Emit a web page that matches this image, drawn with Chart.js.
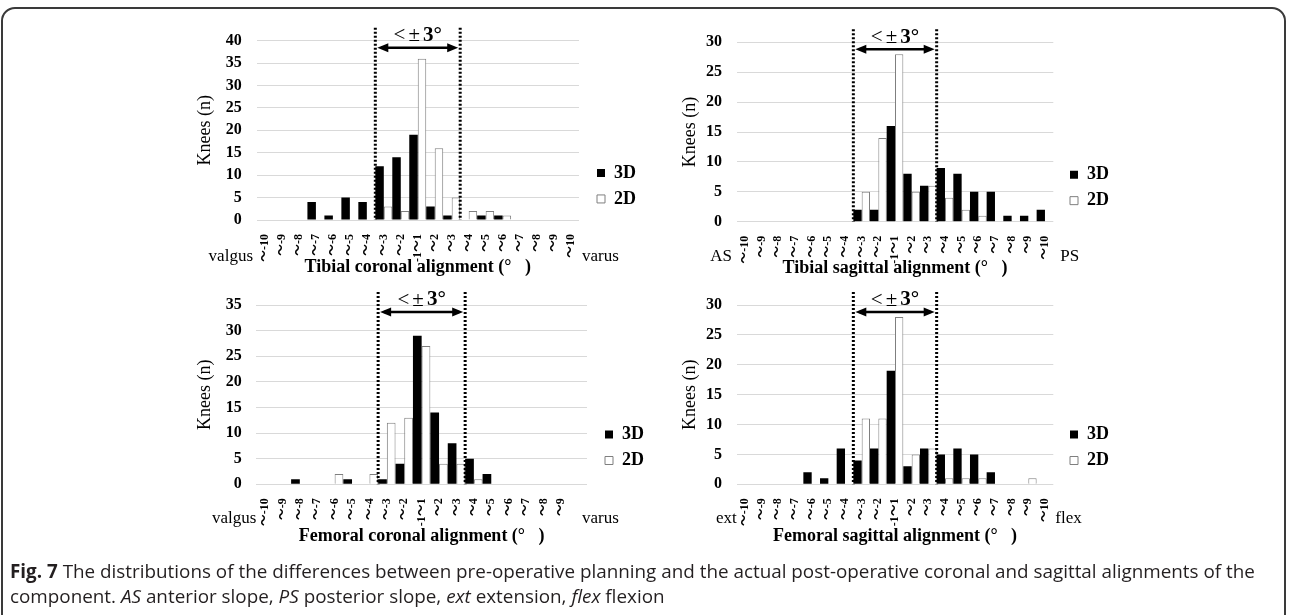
<!DOCTYPE html>
<html lang="en">
<head>
  <meta charset="UTF-8" />
  <title>Fig. 7 alignment distributions</title>
  <script src="https://cdn.jsdelivr.net/npm/chart.js"></script>
  <style>
    * { box-sizing: border-box; margin: 0; padding: 0; }

    body {
      width: 1292px;
      height: 615px;
      background: #fff;
      position: relative;
      overflow: hidden;
    }

    .frame {
      position: absolute;
      left: 1px;
      top: 7px;
      width: 1285px;
      height: 700px;
      border: 2px solid #3a3a3a;
      border-radius: 14px;
    }

    .panel {
      position: absolute;
      width: 500px;
      height: 285px;
    }

    .caption {
      position: absolute;
      left: 10px;
      top: 559px;
      font-family: 'Open Sans', sans-serif;
      font-size: 17px;
      line-height: 25px;
      color: #231f20;
      white-space: nowrap;
    }
    .caption b { font-weight: 700; }
  </style>
</head>
<body>

  <div class="frame"></div>

  <div class="panel" style="left:180px; top:15px;"><canvas id="tibCor" width="500" height="285"></canvas></div>
  <div class="panel" style="left:660px; top:15px;"><canvas id="tibSag" width="500" height="285"></canvas></div>
  <div class="panel" style="left:180px; top:275px;"><canvas id="femCor" width="500" height="285"></canvas></div>
  <div class="panel" style="left:660px; top:275px;"><canvas id="femSag" width="500" height="285"></canvas></div>

  <div class="caption">
    <div><span id="cap1"><b>Fig. 7</b> The distributions of the differences between pre-operative planning and the actual post-operative coronal and sagittal alignments of the</span></div>
    <div>component. <i>AS</i> anterior slope, <i>PS</i> posterior slope, <i>ext</i> extension, <i>flex</i> flexion</div>
  </div>

  <script>
    // categories (degrees)
    const degLabels = ['～-10', '～-9', '～-8', '～-7', '～-6', '～-5', '～-4', '～-3', '～-2', '-1～1',
                       '～2', '～3', '～4', '～5', '～6', '～7', '～8', '～9', '～10'];
    // femoral coronal chart has no label on the last slot
    const degLabelsFemCor = ['～-10', '～-9', '～-8', '～-7', '～-6', '～-5', '～-4', '～-3', '～-2', '-1～1',
                             '～2', '～3', '～4', '～5', '～6', '～7', '～8', '～9', ''];

    // knees per bin
    const tibCor3D = [0, 0, 0, 4, 1, 5, 4, 12, 14, 19, 3, 1, 0, 1, 1, 0, 0, 0, 0];
    const tibCor2D = [0, 0, 0, 0, 0, 0, 0, 3, 2, 36, 16, 5, 2, 2, 1, 0, 0, 0, 0];
    const tibSag3D = [0, 0, 0, 0, 0, 0, 0, 2, 2, 16, 8, 6, 9, 8, 5, 5, 1, 1, 2];
    const tibSag2D = [0, 0, 0, 0, 0, 0, 0, 5, 14, 28, 5, 6, 4, 2, 1, 0, 0, 0, 0];
    const femCor3D = [0, 0, 1, 0, 0, 1, 0, 1, 4, 29, 14, 8, 5, 2, 0, 0, 0, 0, 0];
    const femCor2D = [0, 0, 0, 0, 2, 0, 2, 12, 13, 27, 4, 4, 1, 0, 0, 0, 0, 0, 0];
    const femSag3D = [0, 0, 0, 0, 2, 1, 6, 4, 6, 19, 3, 6, 5, 6, 5, 2, 0, 0, 0];
    const femSag2D = [0, 0, 0, 0, 0, 0, 0, 11, 11, 28, 5, 6, 1, 1, 1, 0, 0, 1, 0];

    // y axis maximums
    const yMaxTibCor = 40;
    const yMaxTibSag = 30;
    const yMaxFemCor = 35;
    const yMaxFemSag = 30;

    const serif = "'Liberation Serif', 'Noto Sans CJK JP', serif";
    Chart.defaults.font.family = serif;
    Chart.defaults.color = '#000';

    // moves the legend box a bit (excel put it lower/right than chart.js does)
    const legendShift = {
      id: 'legendShift',
      afterLayout(chart, args, o) {
        const l = chart.legend;
        if (!l) return;
        l.left += o.dx; l.right += o.dx;
        l.top += o.dy; l.bottom += o.dy;
      }
    };

    // the "<±3°" band: dotted borders, double arrow, and the side words
    const band = {
      id: 'band',
      afterDatasetsDraw(chart, args, o) {
        const { ctx, chartArea: a } = chart;
        const xs = chart.scales.x;
        const x1 = xs.getPixelForValue(o.from);
        const x2 = xs.getPixelForValue(o.to);
        ctx.save();
        ctx.strokeStyle = '#000';
        ctx.lineWidth = 3;
        ctx.setLineDash([2, 2]);
        for (const px of [x1, x2]) {
          ctx.beginPath();
          ctx.moveTo(px, a.top - 13);
          ctx.lineTo(px, a.bottom);
          ctx.stroke();
        }
        ctx.setLineDash([]);

        const ay = a.top + 7;
        ctx.lineWidth = 2.5;
        ctx.beginPath();
        ctx.moveTo(x1 + 6, ay);
        ctx.lineTo(x2 - 6, ay);
        ctx.stroke();
        ctx.fillStyle = '#000';
        [[x1 + 2, 1], [x2 - 2, -1]].forEach(([tip, dir]) => {
          ctx.beginPath();
          ctx.moveTo(tip, ay);
          ctx.lineTo(tip + dir * 11, ay - 4.5);
          ctx.lineTo(tip + dir * 11, ay + 4.5);
          ctx.closePath();
          ctx.fill();
        });

        // "<", "±" light, "3°" bold, with small gaps like the original
        const parts = [['<', '21px '], ['±', '21px '], ['3°', 'bold 21px ']];
        const gap = 3;
        ctx.textBaseline = 'middle';
        ctx.textAlign = 'left';
        let total = 0;
        const widths = parts.map(([t, f]) => { ctx.font = f + serif; const w = ctx.measureText(t).width; total += w; return w; });
        total += gap * (parts.length - 1);
        let tx = (x1 + x2) / 2 - total / 2;
        parts.forEach(([t, f], i) => {
          ctx.font = f + serif;
          ctx.fillText(t, tx, a.top - 5);
          tx += widths[i] + gap;
        });

        ctx.font = '17px ' + serif;
        const sy = a.bottom + o.sideDy;
        ctx.textAlign = 'right';
        ctx.fillText(o.leftText, a.left - o.gapL, sy);
        ctx.textAlign = 'left';
        ctx.fillText(o.rightText, a.right + o.gapR, sy);
        ctx.restore();
      }
    };

    function makeChart(id, labels, d3, d2, yMax, p) {
      return new Chart(document.getElementById(id), {
        type: 'bar',
        data: {
          labels: labels,
          datasets: [
            { label: '3D', data: d3, backgroundColor: '#000', borderColor: '#000', borderWidth: 0 },
            { label: '2D', data: d2, backgroundColor: '#fff', borderColor: '#7f7f7f', borderWidth: 1 }
          ]
        },
        options: {
          responsive: false,
          animation: false,
          layout: { padding: { top: p.padTop, right: p.padRight, bottom: 0, left: 0 } },
          // no inflate, so empty bins stay empty
          datasets: { bar: { barPercentage: 1, categoryPercentage: 1, inflateAmount: 0 } },
          scales: {
            x: {
              grid: { display: false },
              border: { display: false },
              ticks: { autoSkip: false, minRotation: 90, maxRotation: 90, padding: 6, font: { size: 12, weight: 'bold' } },
              title: { display: true, text: p.xTitle, font: { size: 18, weight: 'bold' }, padding: { top: 0, bottom: p.xTitlePad } },
              afterFit: s => { s.height = p.xH; }
            },
            y: {
              min: 0,
              max: yMax,
              border: { display: false },
              grid: { color: '#d9d9d9', drawTicks: false },
              ticks: { stepSize: 5, padding: p.tickPad, font: { size: 16, weight: 'bold' } },
              title: { display: true, text: 'Knees (n)', font: { size: 18 }, padding: { top: p.yTitlePad, bottom: 0 } },
              afterFit: s => { s.width = p.yW; }
            }
          },
          plugins: {
            legend: {
              position: 'right',
              maxWidth: 52,
              labels: { boxWidth: 8, boxHeight: 8, padding: 8, color: '#000', font: { size: 18, weight: 'bold' } }
            },
            tooltip: { enabled: false },
            legendShift: { dx: p.legDx, dy: p.legDy },
            band: { from: 6.5, to: 11.5, leftText: p.leftText, rightText: p.rightText, gapL: p.gapL, gapR: p.gapR, sideDy: p.sideDy }
          }
        },
        plugins: [legendShift, band]
      });
    }

    makeChart('tibCor', degLabels, tibCor3D, tibCor2D, yMaxTibCor, {
      padTop: 25.7, padRight: 49, yW: 76.5, xH: 80, tickPad: 14.8, yTitlePad: 14.2, xTitlePad: 22.2,
      xTitle: 'Tibial coronal alignment (°   )', legDx: 10, legDy: 15.6,
      leftText: 'valgus', rightText: 'varus', gapL: 3.5, gapR: 3, sideDy: 37
    });
    makeChart('tibSag', degLabels, tibSag3D, tibSag2D, yMaxTibSag, {
      padTop: 27.3, padRight: 54.7, yW: 76.7, xH: 78.3, tickPad: 14.7, yTitlePad: 19.2, xTitlePad: 20.9,
      xTitle: 'Tibial sagittal alignment (°   )', legDx: 8.7, legDy: 16.5,
      leftText: 'AS', rightText: 'PS', gapL: 4.7, gapR: 7, sideDy: 35
    });
    makeChart('femCor', degLabelsFemCor, femCor3D, femCor2D, yMaxFemCor, {
      padTop: 30, padRight: 41, yW: 76.3, xH: 75.7, tickPad: 14.6, yTitlePad: 14.2, xTitlePad: 12.5,
      xTitle: 'Femoral coronal alignment (°   )', legDx: 10, legDy: 15,
      leftText: 'valgus', rightText: 'varus', gapL: 0, gapR: -5, sideDy: 34
    });
    makeChart('femSag', degLabels, femSag3D, femSag2D, yMaxFemSag, {
      padTop: 30, padRight: 54.7, yW: 76.7, xH: 75.7, tickPad: 14.7, yTitlePad: 19.2, xTitlePad: 12.5,
      xTitle: 'Femoral sagittal alignment (°   )', legDx: 8.7, legDy: 15,
      leftText: 'ext', rightText: 'flex', gapL: 0, gapR: 2, sideDy: 34
    });

    // caption first line runs to about x=1255 in the figure
    const cap1 = document.getElementById('cap1');
    const capBox = document.querySelector('.caption');
    const w = cap1.getBoundingClientRect().width;
    capBox.style.fontSize = (17 * 1245 / w).toFixed(2) + 'px';
  </script>

</body>
</html>
